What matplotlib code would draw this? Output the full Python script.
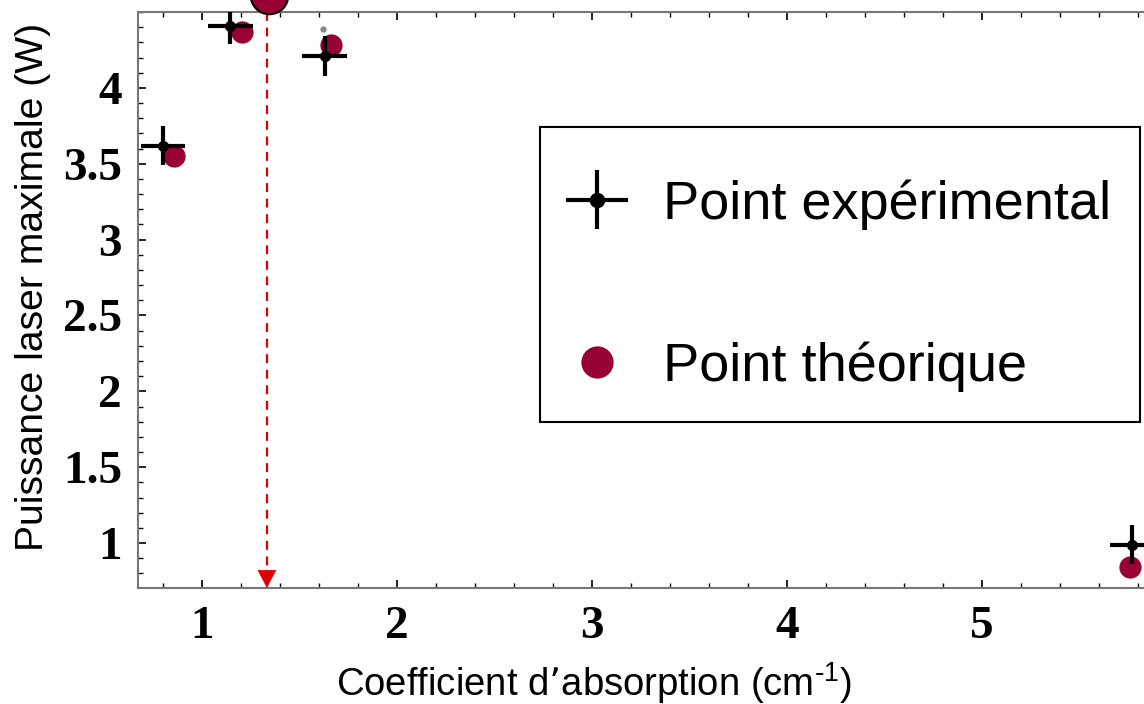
import matplotlib
matplotlib.use("Agg")
import matplotlib.pyplot as plt
from matplotlib.ticker import MultipleLocator
from matplotlib.legend_handler import HandlerErrorbar
from matplotlib.container import ErrorbarContainer
from matplotlib.patches import Rectangle

# experimental points (with error bars)
coef_exp = [0.80, 1.145, 1.63, 5.77]
power_exp = [3.62, 4.41, 4.21, 0.99]
coef_err = [0.115, 0.115, 0.115, 0.115]
power_err = [0.13, 0.12, 0.13, 0.13]

# theoretical points
coef_th = [0.856, 1.205, 1.66, 5.76]
power_th = [3.55, 4.37, 4.28, 0.84]

# highlighted optimum + vertical marker
coef_opt = 1.344
power_opt = 4.61
coef_line = 1.333
gray_dot = (1.62, 4.39)

theo_color = "#990033"
label_font = "Liberation Sans"
tick_font = "Liberation Serif"

fig = plt.figure(figsize=(11.44, 7.04), dpi=100)
ax = fig.add_axes([138 / 1144, 116 / 704, 1 - 138 / 1144, 576 / 704])

ymin, ymax = 0.704, 4.5
ax.set_xlim(0.672, 5.83)
ax.set_ylim(ymin, ymax)

# dashed vertical line with a solid arrow head at the x axis
ax.plot([coef_line, coef_line], [ymax, ymin + 0.1], color="#dd0000", lw=1.6,
        linestyle=(0, (4, 3)), zorder=2)
ax.annotate("", xy=(coef_line, ymin), xytext=(coef_line, ymin + 0.12),
            arrowprops=dict(arrowstyle="-|>,head_length=0.61,head_width=0.32",
                            mutation_scale=20, color="#dd0000", lw=0.5,
                            shrinkA=0, shrinkB=0))

ax.plot(coef_th, power_th, "o", color=theo_color, markersize=16,
        markeredgewidth=0, label="Point théorique", zorder=3)

ax.errorbar(coef_exp, power_exp, xerr=coef_err, yerr=power_err, fmt="o",
            color="black", markersize=7, elinewidth=3, capsize=0,
            label="Point expérimental", zorder=4)

ax.plot([gray_dot[0]], [gray_dot[1]], "o", color="#888888", markersize=3.5,
        zorder=4)
ax.plot([coef_opt], [power_opt], "o", color=theo_color, markersize=27,
        markeredgecolor="black", markeredgewidth=1.5, clip_on=False, zorder=5)

# axes styling
ax.spines["right"].set_visible(False)
for s in ["left", "bottom", "top"]:
    ax.spines[s].set_color("#777777")
    ax.spines[s].set_linewidth(1.5)

ax.xaxis.set_major_locator(MultipleLocator(1))
ax.xaxis.set_minor_locator(MultipleLocator(0.2))
ax.yaxis.set_major_locator(MultipleLocator(0.5))
ax.yaxis.set_minor_locator(MultipleLocator(0.1))
ax.tick_params(which="both", direction="in", top=True, right=False,
               color="black")
ax.tick_params(which="major", length=6, width=1.2)
ax.tick_params(which="minor", length=3.5, width=1.0)
ax.tick_params(axis="x", which="major", pad=13)
ax.tick_params(axis="y", which="major", pad=11.5)

ax.set_yticks([1, 1.5, 2, 2.5, 3, 3.5, 4])
ax.set_yticklabels(["1", "1.5", "2", "2.5", "3", "3.5", "4"])
ax.set_xticks([1, 2, 3, 4, 5])
ax.set_xticklabels(["1", "2", "3", "4", "5"])
for lab in ax.get_xticklabels() + ax.get_yticklabels():
    lab.set_fontfamily(tick_font)
    lab.set_fontweight("bold")
    lab.set_fontsize(34)

ax.set_xlabel(r"Coefficient d’absorption (cm$^{\mathregular{\text{-}1}}$)",
              fontfamily=label_font, fontsize=27.5)
ax.xaxis.set_label_coords(0.453, -0.125)
ax.set_ylabel("Puissance laser maximale (W)", fontfamily=label_font,
              fontsize=28.2)
ax.yaxis.set_label_coords(-0.086, 0.523)

# legend: frameless entries + a separate box drawn around them
handles, labels = ax.get_legend_handles_labels()
order = [labels.index("Point expérimental"), labels.index("Point théorique")]
leg = ax.legend([handles[i] for i in order], [labels[i] for i in order],
                loc="upper left", bbox_to_anchor=(564 / 1144, 1 - 179 / 704),
                bbox_transform=fig.transFigure,
                prop={"family": label_font, "size": 39},
                handler_map={ErrorbarContainer: HandlerErrorbar(xerr_size=0.57,
                                                                yerr_size=0.55)},
                frameon=False, handlelength=1.22, markerscale=1.45,
                handletextpad=0.6, labelspacing=2.06, borderpad=0,
                borderaxespad=0)
fig.add_artist(Rectangle((540 / 1144, 1 - 422 / 704), 600 / 1144, 295 / 704,
                         transform=fig.transFigure, fill=False,
                         edgecolor="black", linewidth=1.5))

fig.savefig("out.png", dpi=100)
